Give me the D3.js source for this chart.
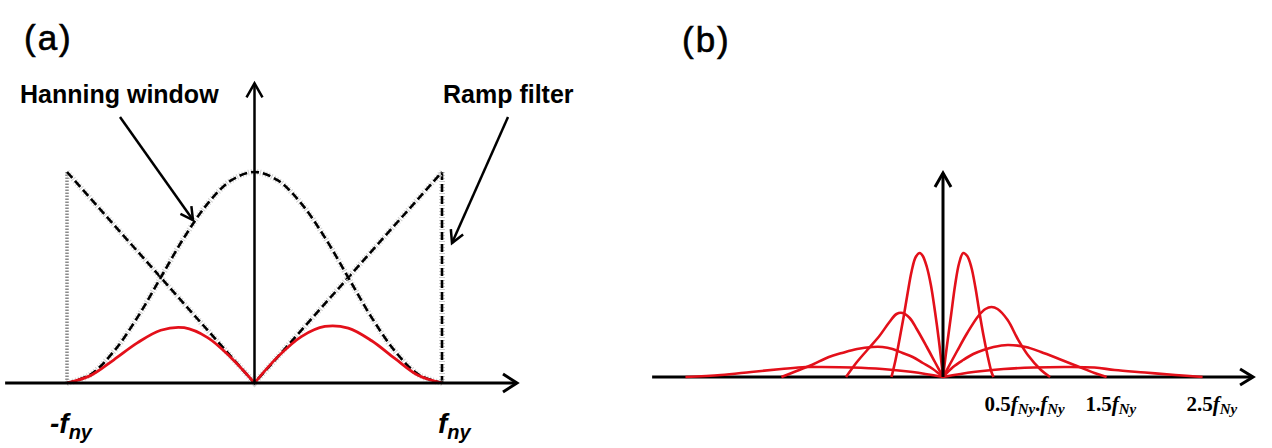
<!DOCTYPE html>
<html><head><meta charset="utf-8">
<script src="https://cdn.jsdelivr.net/npm/d3@7"></script>
<style>body{margin:0;background:#fff}svg{display:block}</style>
</head><body>
<svg id="c" width="1272" height="448"></svg>
<script>
// ---------- DATA: panel (a) ----------
const aX      = [-1,-0.875,-0.75,-0.625,-0.5,-0.375,-0.25,-0.125,0,0.125,0.25,0.375,0.5,0.625,0.75,0.875,1];
const hanning = [0,0.04,0.15,0.31,0.5,0.69,0.85,0.96,1,0.96,0.85,0.69,0.5,0.31,0.15,0.04,0];
const filtered= [0,0.035,0.11,0.19,0.25,0.262,0.215,0.12,0,0.125,0.22,0.268,0.26,0.2,0.115,0.035,0];
const rampX   = [-1,0,1];
const rampY   = [1,0,1];
const aTicks  = [-1,1];
const aTickSign = ["-",""];
// ---------- DATA: panel (b) (x in f_Ny units) ----------
const tallRX = [0,0.04,0.08,0.12,0.16,0.20,0.24,0.28,0.32,0.36,0.40,0.44,0.48,0.50];
const tallRY = [0,0.32,0.62,0.92,1.14,1.24,1.21,1.10,0.90,0.65,0.42,0.22,0.05,0];
const tallLX = [0,-0.04,-0.08,-0.12,-0.16,-0.20,-0.23,-0.27,-0.31,-0.35,-0.39,-0.43,-0.47,-0.51];
const tallLY = [0,0.36,0.66,0.92,1.10,1.21,1.24,1.20,1.06,0.84,0.60,0.38,0.17,0];
const midRX  = [0,0.07,0.14,0.24,0.35,0.42,0.48,0.54,0.64,0.74,0.84,0.97,1.06];
const midRY  = [0,0.13,0.26,0.44,0.61,0.68,0.70,0.68,0.57,0.38,0.22,0.07,0];
const midLX  = [0,-0.08,-0.16,-0.26,-0.33,-0.40,-0.46,-0.53,-0.63,-0.75,-0.86,-0.96];
const midLY  = [0,0.15,0.30,0.48,0.59,0.64,0.63,0.55,0.41,0.27,0.14,0];
const lowRX  = [0,0.1,0.2,0.3,0.4,0.5,0.64,0.82,0.97,1.15,1.3,1.5,1.62];
const lowRY  = [0,0.10,0.17,0.23,0.27,0.30,0.32,0.30,0.25,0.18,0.12,0.04,0];
const lowLX  = [0,-0.1,-0.2,-0.3,-0.4,-0.5,-0.6,-0.7,-0.85,-1.0,-1.13,-1.3,-1.45,-1.6];
const lowLY  = [0,0.08,0.14,0.20,0.24,0.28,0.30,0.30,0.28,0.24,0.20,0.12,0.06,0];
const flatRX = [0,0.3,0.6,0.9,1.2,1.5,1.7,2.0,2.3,2.57];
const flatRY = [0,0.05,0.08,0.095,0.10,0.095,0.07,0.045,0.02,0];
const flatLX = [0,-0.3,-0.6,-0.9,-1.2,-1.36,-1.6,-1.9,-2.2,-2.55];
const flatLY = [0,0.05,0.08,0.095,0.10,0.10,0.08,0.05,0.02,0];
const bTicks  = [0.5,1,1.5,2.5];
const bTickNum= ["0.5",".","1.5","2.5"];

// ---------- DRAW ----------
const svg = d3.select("#c");
const RED = "#e3101a";

function chevron(g, x, y, dir, len, half, w){
  let p;
  if(dir==="up") p = [[x-half,y+len],[x,y],[x+half,y+len]];
  else p = [[x-len,y-half],[x,y],[x-len,y+half]];
  g.append("path").attr("d", d3.line()(p)).attr("fill","none")
   .attr("stroke","#000").attr("stroke-width",w).attr("stroke-linejoin","miter");
}
function arrowLine(g, x1,y1,x2,y2){
  g.append("line").attr("x1",x1).attr("y1",y1).attr("x2",x2).attr("y2",y2)
   .attr("stroke","#000").attr("stroke-width",2.5);
  const ang = Math.atan2(y2-y1,x2-x1), L=14, s=0.5;
  const p=[[x2-L*Math.cos(ang-s), y2-L*Math.sin(ang-s)],[x2,y2],[x2-L*Math.cos(ang+s), y2-L*Math.sin(ang+s)]];
  g.append("path").attr("d",d3.line()(p)).attr("fill","none").attr("stroke","#000").attr("stroke-width",2.5);
}

// Panel (a)
const ga = svg.append("g");
const xa = d3.scaleLinear().domain([-1,1]).range([67,442]);
const ya = d3.scaleLinear().domain([0,1]).range([383,172]);

function dashed(g, pts, curve){
  const ln = d3.line().x(d=>xa(d[0])).y(d=>ya(d[1])).curve(curve||d3.curveLinear);
  g.append("path").attr("d",ln(pts)).attr("fill","none").attr("stroke","#d0d0d0")
   .attr("stroke-width",6).attr("stroke-dasharray","1,2");
  g.append("path").attr("d",ln(pts)).attr("fill","none").attr("stroke","#000")
   .attr("stroke-width",2.6).attr("stroke-dasharray","8,4");
}
ga.append("line").attr("x1",xa(-1)).attr("x2",xa(-1)).attr("y1",ya(0)).attr("y2",ya(1))
  .attr("stroke","#8a8a8a").attr("stroke-width",3.5).attr("stroke-dasharray","1.5,1.5");
dashed(ga, [[1,1],[1,0]]);
dashed(ga, rampX.map((x,i)=>[x,rampY[i]]));
dashed(ga, aX.map((x,i)=>[x,hanning[i]]), d3.curveCatmullRom);
const redLine = d3.line().x(d=>xa(d[0])).y(d=>ya(d[1])).curve(d3.curveCatmullRom);
const fpts = aX.map((x,i)=>[x,filtered[i]]);
[fpts.filter(d=>d[0]<=0), fpts.filter(d=>d[0]>=0)].forEach(p=>{
  ga.append("path").attr("d",redLine(p)).attr("fill","none").attr("stroke",RED).attr("stroke-width",2.8);
});
ga.append("line").attr("x1",xa(-1.33)).attr("x2",xa(1.4)).attr("y1",ya(0)).attr("y2",ya(0))
  .attr("stroke","#000").attr("stroke-width",3);
chevron(ga, xa(1.4), ya(0), "right", 14, 9, 3);
ga.append("line").attr("x1",xa(0)).attr("x2",xa(0)).attr("y1",ya(0)).attr("y2",ya(1.42))
  .attr("stroke","#000").attr("stroke-width",2.5);
chevron(ga, xa(0), ya(1.42), "up", 14, 8, 2.5);
aTicks.forEach((t,i)=>{
  const tx = ga.append("text").attr("x", xa(t) + (t<0?-17:-4)).attr("y", 433)
    .attr("font-family","Liberation Sans, Arial, sans-serif").attr("font-weight","bold")
    .attr("font-style","italic").attr("fill","#000");
  tx.append("tspan").attr("font-size",28).text(aTickSign[i]+"f");
  tx.append("tspan").attr("font-size",20).attr("dy",6).text("ny");
});
ga.append("text").attr("x",20).attr("y",103).attr("font-family","Liberation Sans, Arial, sans-serif")
  .attr("font-weight","bold").attr("font-size",25).text("Hanning window");
ga.append("text").attr("x",443).attr("y",103).attr("font-family","Liberation Sans, Arial, sans-serif")
  .attr("font-weight","bold").attr("font-size",25).text("Ramp filter");
arrowLine(ga, 120,117, 193,220);
arrowLine(ga, 508,117, 452,243);
ga.append("text").attr("x",24).attr("y",50).attr("font-family","Liberation Sans, Arial, sans-serif")
  .attr("font-size",35).attr("letter-spacing",2).attr("stroke","#000").attr("stroke-width",0.6).text("(a)");

// Panel (b)
const gb = svg.append("g");
const xb = d3.scaleLinear().domain([0,1]).range([943,1044]);
const yb = d3.scaleLinear().domain([0,1]).range([377,277]);
const bLine = d3.line().x(d=>xb(d[0])).y(d=>yb(d[1])).curve(d3.curveCatmullRom.alpha(0.5));
const halves = [[flatRX,flatRY],[flatLX,flatLY],[lowRX,lowRY],[lowLX,lowLY],[midRX,midRY],[midLX,midLY],[tallRX,tallRY],[tallLX,tallLY]];
gb.append("line").attr("x1",xb(-2.88)).attr("x2",xb(3.07)).attr("y1",yb(0)).attr("y2",yb(0))
  .attr("stroke","#000").attr("stroke-width",3);
chevron(gb, xb(3.07), yb(0), "right", 13, 8, 3);
halves.forEach(([X,Y])=>{
  const pts = X.map((x,i)=>[x,Y[i]]).sort((a,b)=>a[0]-b[0]);
  gb.append("path").attr("d",bLine(pts)).attr("fill","none").attr("stroke",RED).attr("stroke-width",2.6);
});
gb.append("line").attr("x1",xb(0)).attr("x2",xb(0)).attr("y1",yb(0)).attr("y2",yb(2.04))
  .attr("stroke","#000").attr("stroke-width",3);
chevron(gb, xb(0), yb(2.04), "up", 14, 8, 3);
bTicks.forEach((t,i)=>{
  const tx = gb.append("text").attr("x", xb(t)-9).attr("y",411)
    .attr("font-family","Liberation Serif, Times New Roman, serif").attr("font-weight","bold").attr("fill","#000");
  tx.append("tspan").attr("font-size",21).text(bTickNum[i]);
  tx.append("tspan").attr("font-size",21).attr("font-style","italic").text("f");
  tx.append("tspan").attr("font-size",15).attr("font-style","italic").attr("dy",3).text("Ny");
});
gb.append("text").attr("x",682).attr("y",52).attr("font-family","Liberation Sans, Arial, sans-serif")
  .attr("font-size",35).attr("letter-spacing",2).attr("stroke","#000").attr("stroke-width",0.6).text("(b)");
</script>
</body></html>
